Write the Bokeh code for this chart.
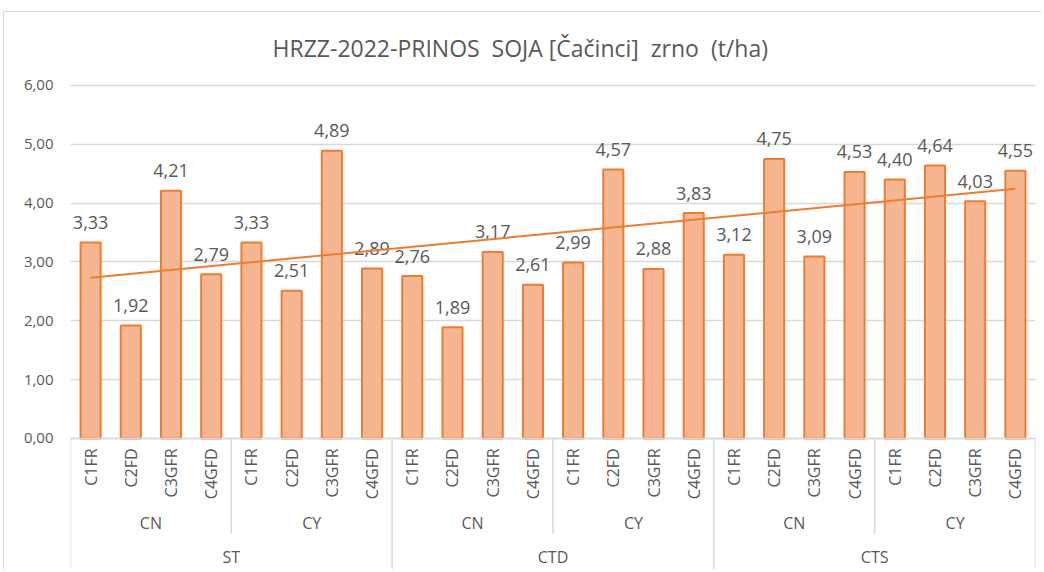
import numpy as np
from bokeh.plotting import figure
from bokeh.models import FactorRange, Range1d, FixedTicker, CustomJSTickFormatter, ColumnDataSource
from bokeh.core.properties import value
from bokeh.embed import file_html
from bokeh.resources import INLINE

# ---- data ----
systems = ["ST", "CTD", "CTS"]
crops = ["CN", "CY"]
treatments = ["C1FR", "C2FD", "C3GFR", "C4GFD"]
yields = [
    3.33, 1.92, 4.21, 2.79,   # ST  CN
    3.33, 2.51, 4.89, 2.89,   # ST  CY
    2.76, 1.89, 3.17, 2.61,   # CTD CN
    2.99, 4.57, 2.88, 3.83,   # CTD CY
    3.12, 4.75, 3.09, 4.53,   # CTS CN
    4.40, 4.64, 4.03, 4.55,   # CTS CY
]
title = "HRZZ-2022-PRINOS\u00a0 SOJA [Čačinci]\u00a0 zrno\u00a0 (t/ha)"
y_ticks = [0, 1, 2, 3, 4, 5, 6]

factors = [(s, c, t) for s in systems for c in crops for t in treatments]
n = len(factors)

FONT = "Open Sans"
GRAY = "#595959"
ORANGE = "#ed7d31"
FILL = "#f7b692"
LINE = "#d9d9d9"

W, H = 1038, 558
Y0 = -2.244
x_range = FactorRange(*factors, range_padding=0, factor_padding=0,
                      subgroup_padding=0, group_padding=0)
y_range = Range1d(Y0, 6.1)

p = figure(width=W, height=H, x_range=x_range, y_range=y_range,
           output_backend="svg", toolbar_location=None,
           min_border_left=66, min_border_right=7,
           min_border_top=67, min_border_bottom=0)
p.styles = {"margin-left": "3px", "margin-top": "11px",
            "border-left": "1px solid #d9d9d9", "border-top": "1px solid #d9d9d9"}

p.title.text = title
p.title.align = "left"
p.title.text_font = FONT
p.title.text_font_size = "23px"
p.title.text_font_style = "normal"
p.title.text_color = GRAY
p.title.standoff = 31
p.title.offset = 202

p.outline_line_color = None
p.xaxis.visible = False
p.xgrid.grid_line_color = None
p.ygrid.ticker = FixedTicker(ticks=y_ticks)
p.ygrid.grid_line_color = LINE
p.ygrid.grid_line_width = 1.5

ax = p.yaxis[0]
ax.ticker = FixedTicker(ticks=y_ticks)
ax.formatter = CustomJSTickFormatter(code="return tick.toFixed(2).replace('.', ',');")
ax.axis_line_color = None
ax.major_tick_line_color = None
ax.minor_tick_line_color = None
ax.major_label_text_font = FONT
ax.major_label_text_font_size = "15px"
ax.major_label_text_color = GRAY
ax.major_label_standoff = 11

src = ColumnDataSource(dict(x=factors, y=yields,
                            lab=[f"{v:.2f}".replace(".", ",") for v in yields]))

p.vbar(x="x", top="y", width=0.5, source=src, fill_color=FILL,
       line_color=ORANGE, line_width=2)

# value labels
p.text(x="x", y="y", text="lab", source=src, text_font=value(FONT),
       text_font_size="18px", text_color=GRAY, text_align="center",
       text_baseline="alphabetic", y_offset=-20)

# linear trendline
xi = np.arange(1, n + 1)
k, b = np.polyfit(xi, np.array(yields), 1)
p.line(x=[0.5, n - 0.5], y=[k * 1 + b, k * n + b], line_color=ORANGE, line_width=2)

# category axis (drawn in data space below zero)
px = 1 / 58.83
p.line(x=[0, n], y=[0, 0], line_color=LINE, line_width=1.5)
p.text(x=factors, y=[-10 * px] * n, text=[f[2] for f in factors],
       angle=np.pi / 2, text_align="right", text_baseline="middle",
       text_font=value(FONT), text_font_size="16px", text_color=GRAY)

mid_x = [(s, c) for s in systems for c in crops]
p.text(x=mid_x, y=[-85 * px] * len(mid_x), text=[m[1] for m in mid_x],
       text_align="center", text_baseline="middle",
       text_font=value(FONT), text_font_size="16px", text_color=GRAY)
p.text(x=systems, y=[-119 * px] * len(systems), text=systems,
       text_align="center", text_baseline="middle",
       text_font=value(FONT), text_font_size="16px", text_color=GRAY)

# separators
nt = len(treatments)
sub_x = [i * nt for i in range(len(mid_x) + 1) if i % len(crops) != 0]
grp_x = [i * nt * len(crops) for i in range(len(systems) + 1)]
p.segment(x0=sub_x, y0=[0] * len(sub_x), x1=sub_x, y1=[-95 * px] * len(sub_x),
          line_color=LINE, line_width=1.5)
p.segment(x0=grp_x, y0=[0] * len(grp_x), x1=grp_x, y1=[Y0] * len(grp_x),
          line_color=LINE, line_width=1.5)

open("out.html", "w").write(file_html(p, INLINE))
